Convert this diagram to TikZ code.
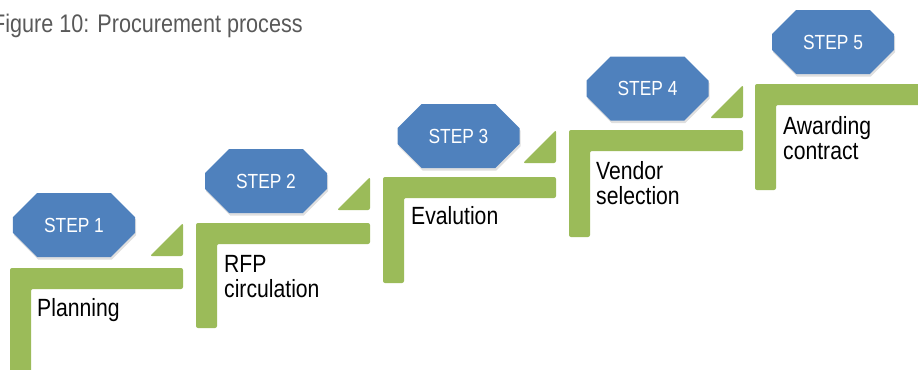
\documentclass[tikz,border=0pt]{standalone}
\usepackage{fontspec}
\setmainfont{Liberation Sans}
\newfontfamily\narrowfont[FakeStretch=0.85]{Liberation Sans}
\usetikzlibrary{shapes.misc,shadows}
\definecolor{stepblue}{HTML}{4F81BD}
\definecolor{stepgreen}{HTML}{9BBB59}
\definecolor{titlegray}{HTML}{595959}
\begin{document}
\begin{tikzpicture}[x=1bp,y=-1bp,
  stepbox/.style={chamfered rectangle, chamfered rectangle xsep=17bp,
    chamfered rectangle ysep=17bp, minimum width=122bp, minimum height=64bp,
    inner sep=0pt, fill=stepblue, draw=none, text=white,
    font=\narrowfont\fontsize{20.5}{24}\selectfont,
    drop shadow={opacity=0.25, shadow xshift=1bp, shadow yshift=-2.5bp}},
  stair/.style={fill=stepgreen, draw=none, rounded corners=2bp},
  label/.style={anchor=north west, inner sep=0pt, align=left,
    font=\narrowfont\fontsize{25}{25.5}\selectfont, text=black},
  title/.style={anchor=base west, inner sep=0pt, text=titlegray,
    font=\narrowfont\fontsize{25.5}{28}\selectfont}
]
\clip (0,0) rectangle (918,369);
% title
\node[title] (title) at (-8,32) {Figure 10: Procurement process};
% green stairs
\foreach \L/\T/\R/\B in {10/268/183/385, 196/223/370/328, 383/177/556/283, 569/130/743/237, 755/84/935/190}{
  \fill[stair] (\L,\T) -- (\R,\T) -- (\R,\T+21) -- (\L+21,\T+21) -- (\L+21,\B) -- (\L,\B) -- cycle;
}
% triangles
\foreach \x/\y in {183/256, 370/210, 556/163, 743/118}{
  \fill[stair] (\x-33,\y) -- (\x,\y) -- (\x,\y-33) -- cycle;
}
% step boxes
\node[stepbox] (s1) at (74,225) {STEP 1};
\node[stepbox] (s2) at (266,181) {STEP 2};
\node[stepbox] (s3) at (458.5,136) {STEP 3};
\node[stepbox] (s4) at (647.5,88.5) {STEP 4};
\node[stepbox] (s5) at (833,42) {STEP 5};
% labels
\node[label] (l1) at (37,298) {Planning};
\node[label] (l2) at (224,255) {RFP\\circulation};
\node[label] (l3) at (411,206) {Evalution};
\node[label] (l4) at (596,161) {Vendor\\selection};
\node[label] (l5) at (783,116) {Awarding\\contract};
\end{tikzpicture}
\end{document}
